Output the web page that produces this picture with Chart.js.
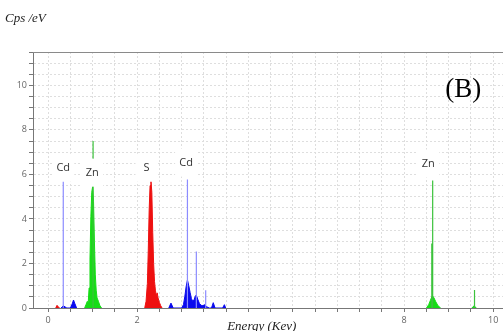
<!DOCTYPE html>
<html>
<head>
<meta charset="utf-8">
<script src="https://cdn.jsdelivr.net/npm/chart.js@4.4.0/dist/chart.umd.min.js"></script>
<style>
  html, body { margin: 0; padding: 0; background: #fff; }
  #wrap { width: 503px; height: 331px; position: relative; }
</style>
</head>
<body>
<div id="wrap"><canvas id="eds"></canvas></div>
<script>
// ── Spectrum data: energy (keV) / counts (cps/eV) ──

// Zn (green)
const znLE  = [0.82, 0.85, 0.88, 0.90, 0.92, 0.94, 0.96, 0.98, 1.00, 1.02, 1.04, 1.06, 1.08, 1.10, 1.13, 1.16, 1.20];
const znLC  = [0, 0.15, 0.30, 0.22, 0.9, 2.2, 4.1, 5.2, 5.46, 4.8, 3.0, 1.5, 0.8, 0.45, 0.3, 0.12, 0];
const znKaE = [8.50, 8.55, 8.59, 8.62, 8.64, 8.67, 8.71, 8.76, 8.82];
const znKaC = [0, 0.15, 0.35, 0.50, 0.54, 0.45, 0.28, 0.10, 0];
const znKbE = [9.52, 9.57, 9.62];
const znKbC = [0, 0.10, 0];

// S (red)
const sLowE = [0.17, 0.20, 0.23, 0.26];
const sLowC = [0, 0.12, 0.04, 0];
const sKE   = [2.17, 2.20, 2.23, 2.25, 2.27, 2.29, 2.31, 2.33, 2.35, 2.37, 2.39, 2.41, 2.43, 2.45, 2.47, 2.50, 2.53, 2.56];
const sKC   = [0, 0.3, 1.1, 2.6, 4.4, 5.5, 5.72, 5.2, 3.4, 2.0, 1.2, 0.8, 0.55, 0.68, 0.45, 0.25, 0.1, 0];

// Cd (blue)
const cdLowE  = [0.29, 0.34, 0.38, 0.42, 0.50, 0.54, 0.57, 0.60, 0.64];
const cdLowC  = [0, 0.10, 0.05, 0, 0, 0.18, 0.36, 0.2, 0];
const cdLE    = [2.71, 2.76, 2.81, 3.00, 3.04, 3.07, 3.10, 3.13, 3.16, 3.19, 3.22, 3.25, 3.28, 3.31, 3.33, 3.36, 3.40, 3.44, 3.48, 3.52, 3.56, 3.62, 3.67, 3.71, 3.75, 3.92, 3.96, 3.99];
const cdLC    = [0, 0.22, 0, 0, 0.15, 0.5, 0.95, 1.26, 1.0, 0.7, 0.42, 0.3, 0.38, 0.55, 0.58, 0.4, 0.2, 0.12, 0.1, 0.15, 0.06, 0, 0, 0.24, 0, 0, 0.15, 0];

// Line markers (thin spikes)
const znLineE = [1.01, 8.62, 8.64, 9.58];
const znLineC = [7.5, 2.9, 5.73, 0.81];
const cdLineE = [0.34, 3.13, 3.33, 3.54];
const cdLineC = [5.7, 5.77, 2.54, 0.8];

// Element labels
const peakText = ['Cd', 'Zn', 'S', 'Cd', 'Zn'];
const peakE    = [0.34, 0.99, 2.21, 3.10, 8.54];
const peakC    = [6.3, 6.08, 6.3, 6.53, 6.49];

// Axis ticks
const xLabelled = [0, 2, 8, 10];
const yLabelled = [0, 2, 4, 6, 8, 10];

const GREEN = '#16dc16', RED = '#ee1010', BLUE = '#0a0aee', LAV = '#8c8cff', ZNLINE = '#3cc23c';

function area(E, C, color) {
    return {
        data: E.map((e, i) => ({ x: e, y: C[i] })),
        borderColor: color, backgroundColor: color,
        borderWidth: 1, fill: 'origin', pointRadius: 0, tension: 0, order: 2,
    };
}
function spikes(E, C, color) {
    const pts = [];
    E.forEach((e, i) => { pts.push({ x: e, y: 0 }, { x: e, y: C[i] }, { x: e, y: null }); });
    return {
        data: pts, borderColor: color, borderWidth: 1.2, fill: false,
        pointRadius: 0, spanGaps: false, order: 1,
    };
}

const datasets = [
    area(sLowE, sLowC, RED),
    area(sKE, sKC, RED),
    area(cdLowE, cdLowC, BLUE),
    area(cdLE, cdLC, BLUE),
    area(znLE, znLC, GREEN),
    area(znKaE, znKaC, GREEN),
    area(znKbE, znKbC, GREEN),
    spikes(cdLineE, cdLineC, LAV),
    spikes(znLineE, znLineC, ZNLINE),
];

// labels, frame and captions
const decor = {
    id: 'decor',
    afterDatasetsDraw(chart) {
        const { ctx, chartArea: a, scales: { x, y } } = chart;
        ctx.save();

        // top frame line
        ctx.strokeStyle = '#8a8a8a'; ctx.lineWidth = 1;
        ctx.beginPath(); ctx.moveTo(a.left, a.top + 0.5); ctx.lineTo(a.right, a.top + 0.5); ctx.stroke();

        // element labels on white boxes
        ctx.font = '11px "Open Sans", sans-serif';
        ctx.textAlign = 'center'; ctx.textBaseline = 'middle';
        peakText.forEach((t, i) => {
            const px = x.getPixelForValue(peakE[i]), py = y.getPixelForValue(peakC[i]);
            ctx.fillStyle = '#fff';
            ctx.fillRect(px - 11, py - 14, 22, 28);
            ctx.fillStyle = '#333';
            ctx.fillText(t, px, py);
        });

        // panel tag
        ctx.font = '27px "Liberation Serif", serif';
        ctx.fillStyle = '#000'; ctx.textAlign = 'left';
        ctx.fillText('(B)', x.getPixelForValue(8.92), y.getPixelForValue(9.8));

        // axis captions
        ctx.font = 'italic 13px "Liberation Serif", serif';
        ctx.fillStyle = '#222';
        ctx.textAlign = 'left';
        ctx.fillText('Cps /eV', 5, 19);
        ctx.textAlign = 'center';
        ctx.fillText('Energy (Kev)', x.getPixelForValue(4.8), 327);
        ctx.restore();
    }
};

new Chart(document.getElementById('eds'), {
    type: 'line',
    data: { datasets },
    options: {
        responsive: true, maintainAspectRatio: false, animation: false,
        layout: { padding: { top: 52, left: 0, right: 0, bottom: 0 } },
        plugins: { legend: { display: false }, tooltip: { enabled: false } },
        scales: {
            x: {
                type: 'linear', min: -0.34, max: 10.22,
                afterFit: s => { s.height = 23; },
                ticks: {
                    stepSize: 0.5, includeBounds: false, autoSkip: false, maxRotation: 0,
                    padding: 3, color: '#666', font: { size: 9, family: '"Open Sans", sans-serif' },
                    callback: v => xLabelled.includes(v) ? String(v) : '',
                },
                grid: { color: '#dedede', tickColor: '#777', tickLength: 4, tickBorderDash: [] },
                border: { color: '#777', dash: [2, 2] },
            },
            y: {
                min: 0, max: 11.5,
                afterFit: s => { s.width = 33; },
                ticks: {
                    stepSize: 0.5, autoSkip: false, padding: 2,
                    color: '#666', font: { size: 9, family: '"Open Sans", sans-serif' },
                    callback: v => yLabelled.includes(v) ? String(v) : '',
                },
                grid: { color: '#dedede', tickColor: '#777', tickLength: 4, tickBorderDash: [] },
                border: { color: '#777', dash: [2, 2] },
            },
        },
    },
    plugins: [decor],
});
</script>
</body>
</html>
